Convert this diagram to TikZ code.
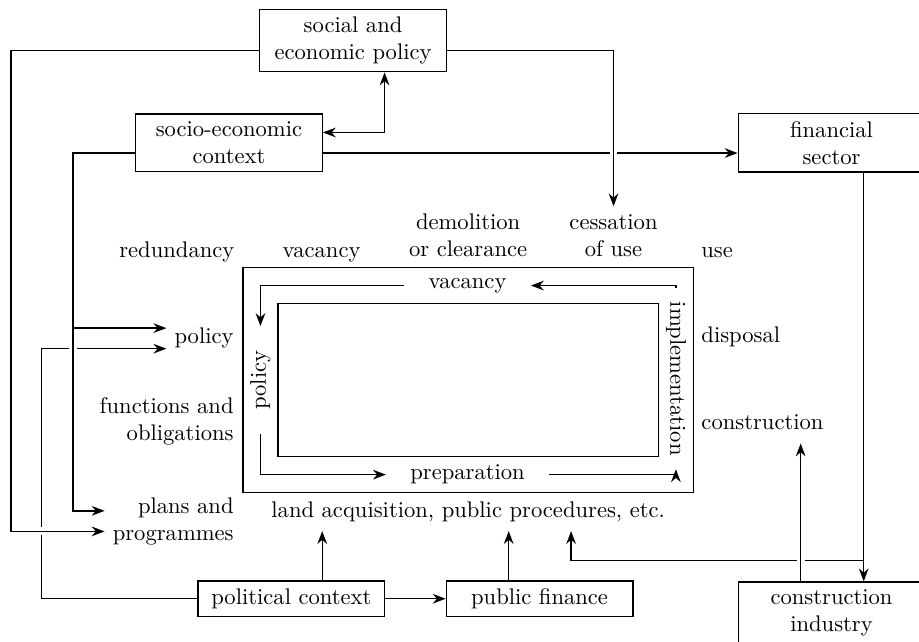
\documentclass[tikz,border=0pt]{standalone}
\usepackage{tikz}
\usetikzlibrary{arrows.meta}
\usetikzlibrary{positioning}

\begin{document}
\begin{tikzpicture}[>=Stealth, semithick,
		box/.style={draw, minimum width=2.9cm, align=center},
		lbl/.style={text depth=2.5pt},
		track/.style={inner xsep=3.7mm},
		bridge/.style={preaction={draw=white, line width=3.5pt, -}}]
				\useasboundingbox (0,0) rectangle (14.29,9.98);
				
				%boxes
				\node[box] (soc) at (5.49,9.35) {social and\\economic policy};
				\node[box] (ctx) at (3.56,7.76) {socio-economic\\context};
				\node[box] (fin) at (12.93,7.76) {financial\\sector};
				\node[box] (pol) at (4.53,0.67) {political context};
				\node[box] (pubf) at (8.39,0.67) {public finance};
				\node[box] (ind) at (12.93,0.45) {construction\\industry};
				
				%frames
				\node[draw, minimum width=7cm, minimum height=3.5cm] (outer) at (7.28,4.07) {};
				\node[draw, minimum width=5.92cm, minimum height=2.38cm] (inner) at (7.28,4.07) {};
				
				%cycle
				\node[track] (tvac) at (7.27,5.54) {vacancy};
				\node[track] (tprep) at (7.27,2.60) {preparation};
				\node[track, rotate=90] (tpol) at (4.05,4.07) {policy};
				\node[track, inner xsep=2mm, rotate=-90] (timpl) at (10.51,4.09) {implementation};
				\draw[->] (tvac.west) -| (tpol.east);
				\draw[->] (tpol.west) |- (tprep.west);
				\draw[->] (tprep.east) -| (timpl.east);
				\draw[->] (timpl.west) |- (tvac.east);
				
				%labels
				\node[lbl, anchor=base] (lred) at (2.75,5.98) {redundancy};
				\node[lbl, anchor=base] (lvac) at (5.00,5.98) {vacancy};
				\node[align=center, anchor=south] (ldem) at (7.28,5.86) {demolition\\or clearance};
				\node[align=center, anchor=south] (lces) at (9.54,5.86) {cessation\\of use};
				\node[lbl, anchor=base] (luse) at (11.15,5.98) {use};
				\node[lbl, anchor=base east] (lpol) at (3.76,4.64) {policy};
				\node[align=right, anchor=south east] (lfun) at (3.76,2.93) {functions and\\obligations};
				\node[align=right, anchor=south east] (lplan) at (3.76,1.38) {plans and\\programmes};
				\node[lbl, anchor=base west] (ldis) at (10.78,4.65) {disposal};
				\node[lbl, anchor=base west] (lcon) at (10.78,3.30) {construction};
				\node[lbl, below=0pt of outer] (land) {land acquisition, public procedures, etc.};
				
				%corners
				\coordinate (l1) at (0.17,5);
				\coordinate (l2) at (0.65,3);
				\coordinate (l3) at (1.135,5);
				\coordinate (polhi) at ([yshift=1.6mm]lpol.west);
				\coordinate (pollo) at ([yshift=-1.6mm]lpol.west);
				\coordinate (polup) at ([xshift=4.8mm]pol.north);
				\coordinate (pubup) at ([xshift=-4.8mm]pubf.north);
				\coordinate (indup) at ([xshift=-4.8mm]ind.north);
				\coordinate (br) at ([xshift=5mm,yshift=3.2mm]ind.north);
				\coordinate (landr) at ([xshift=16mm]land.south);
				
				%draw arrow
				\draw[->] ([yshift=-1.6mm]ctx.east) -- ([yshift=-1.6mm]fin.west);
				\draw[->] (pol.west) -| (l2) |- (pollo);
				\draw[->] ([xshift=5mm]fin.south) -- ([xshift=5mm]ind.north);
				\draw[->] (br) -| (landr);
				\draw[->, bridge] ([yshift=-1.6mm]soc.west) -| (l1) |- ([yshift=-1.6mm]lplan.west);
				\draw[->, bridge] ([yshift=-1.6mm]soc.east) -| (lces.north);
				\draw[->, bridge] ([yshift=-1.6mm]ctx.west) -| (l3) |- ([yshift=1.6mm]lplan.west);
				\draw[->] (polhi -| l3) -- (polhi);
				\draw[->, bridge] (indup) -- (indup |- lcon.south);
				\draw[<->] ([yshift=1.6mm]ctx.east) -| ([xshift=4.9mm]soc.south);
				\draw[->] (polup) -- (polup |- land.south);
				\draw[->] (pubup) -- (pubup |- land.south);
				\draw[->] (pol) -- (pubf);
			\end{tikzpicture}
\end{document}
